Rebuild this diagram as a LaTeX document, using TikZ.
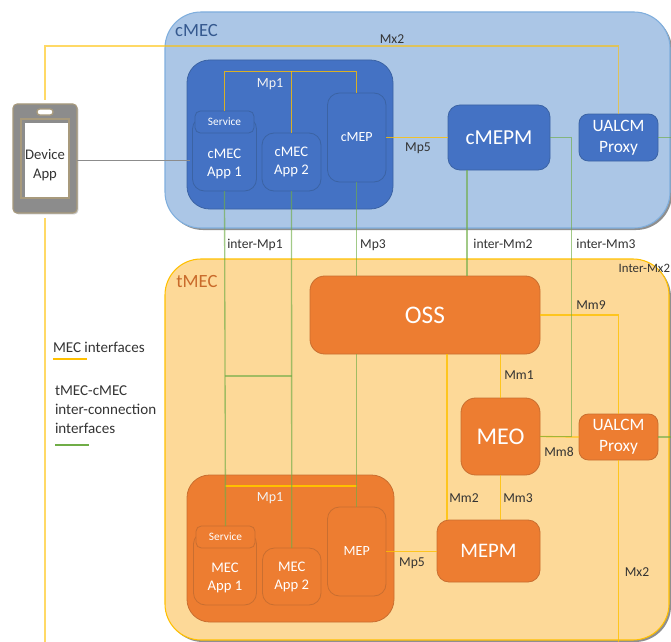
\documentclass[tikz,border=0pt]{standalone}
\usepackage{fontspec}
\setmainfont{Carlito}
\usetikzlibrary{shadows}

\definecolor{cmecfill}{HTML}{ABC6E6}
\definecolor{cmecedge}{HTML}{7FAEDD}
\definecolor{cblue}{HTML}{4472C4}
\definecolor{cblueedge}{HTML}{35598F}
\definecolor{tmecfill}{HTML}{FDD998}
\definecolor{tmecedge}{HTML}{FFC000}
\definecolor{torange}{HTML}{ED7D31}
\definecolor{torangeedge}{HTML}{B9682F}
\definecolor{mecyellow}{HTML}{FFC000}
\definecolor{intergreen}{HTML}{70AD47}
\definecolor{devgrey}{HTML}{8C8C8C}
\definecolor{devtan}{HTML}{A89A7C}

\tikzset{
    wh/.style 2 args={minimum width=#1*0.75pt, minimum height=#2*0.75pt},
    every node/.style={inner sep=0pt, outer sep=0pt, align=center},
    bigbox/.style={rounded corners=27pt, line width=0.8pt, drop shadow={shadow xshift=1.5pt, shadow yshift=-1.5pt, fill=black!55, opacity=0.8}},
    cbox/.style={rounded corners=9pt, fill=cblue, draw=cblueedge!60!cblue, line width=0.6pt, text=white},
    tbox/.style={rounded corners=9pt, fill=torange, draw=torangeedge!70!torange, line width=0.6pt, text=white},
    appfont/.style={font=\fontsize{11}{13.5}\selectfont},
    iflabel/.style={font=\fontsize{10.2}{12}\selectfont, text=black!80},
    inlabel/.style={font=\fontsize{10.5}{12}\selectfont, text=white!95!black},
    legfont/.style={font=\fontsize{11.3}{14.25}\selectfont, text=black!80},
    mecline/.style={draw=mecyellow, opacity=0.8, line width=1pt},
    interline/.style={draw=intergreen, opacity=0.65, line width=1pt},
}

\begin{document}
\begin{tikzpicture}[x=0.75pt, y=-0.75pt]
    \useasboundingbox (0,0) rectangle (671,642);

    % the two MEC areas
    \node[bigbox, wh={505}{216}, fill=cmecfill, draw=cmecedge] (cmec) at (417.5,120) {};
    \node[bigbox, wh={504}{381}, fill=tmecfill, draw=tmecedge] (tmec) at (417,449.5) {};
    \node[font=\fontsize{14}{16}\selectfont, text=cblueedge] (cmeclabel) at (196.5,31) {cMEC};
    \node[font=\fontsize{14}{16}\selectfont, text=torange!85!black] (tmeclabel) at (197,282) {tMEC};

    % cMEC host
    \node[cbox, wh={206}{149}, rounded corners=17pt] (chost) at (290,134.5) {};
    \node[cbox, wh={64}{74}, appfont] (capp1) at (224.5,154) {~\\[8pt]cMEC\\App 1};
    \node[cbox, wh={59}{22}, rounded corners=4pt, font=\fontsize{8.5}{10}\selectfont] (cservice) at (224.5,122) {Service};
    \node[cbox, wh={59}{58}, appfont] (capp2) at (291.5,162) {cMEC\\App 2};
    \node[cbox, wh={58.5}{89}, font=\fontsize{10.5}{12}\selectfont] (cmep) at (356.75,137.5) {cMEP};
    \node[cbox, wh={102}{65}, font=\fontsize{16}{20}\selectfont] (cmepm) at (499,137.5) {cMEPM};
    \node[cbox, wh={79}{47}, rounded corners=7pt, font=\fontsize{13}{15.5}\selectfont] (cproxy) at (618.5,137.5) {UALCM\\Proxy};

    % tMEC side
    \node[tbox, wh={230}{78}, rounded corners=11pt, font=\fontsize{19}{20}\selectfont] (oss) at (425,315) {OSS};
    \node[tbox, wh={79}{77}, rounded corners=11pt, font=\fontsize{18}{20}\selectfont] (meo) at (500.5,436.5) {MEO};
    \node[tbox, wh={103}{62}, font=\fontsize{15.5}{20}\selectfont] (mepm) at (488.5,551) {MEPM};
    \node[tbox, wh={79}{46}, rounded corners=7pt, font=\fontsize{13}{15.5}\selectfont] (tproxy) at (618.5,437) {UALCM\\Proxy};
    \node[tbox, wh={207}{147}, rounded corners=17pt] (thost) at (290.5,548.5) {};
    \node[tbox, wh={63}{73}, appfont] (tapp1) at (225,568.5) {~\\[8pt]MEC\\App 1};
    \node[tbox, wh={59}{22}, rounded corners=4pt, font=\fontsize{8.5}{10}\selectfont] (tservice) at (225.5,537) {Service};
    \node[tbox, wh={58.5}{57}, appfont] (tapp2) at (291.75,576.5) {MEC\\App 2};
    \node[tbox, wh={58.5}{89}, font=\fontsize{10.5}{12}\selectfont] (tmep) at (356.75,551.5) {MEP};

    % device
    \node[wh={64}{109}, rounded corners=3pt, fill=devgrey, draw=devtan, line width=0.8pt, drop shadow={shadow xshift=1pt, shadow yshift=-1pt, fill=black!45}] (device) at (45,158.5) {};
    \node[wh={48}{79}, fill=devgrey, draw=devtan, line width=1pt] (screenframe) at (45,158.5) {};
    \node[wh={43}{74}, fill=white] (screen) at (46.5,160) {};
    \node[wh={16}{6}, rounded corners=2pt, fill=white, draw=devtan, line width=1pt] (speaker) at (45,112) {};
    \node[font=\fontsize{11}{14.25}\selectfont, text=black!80] (deviceapp) at (45,165) {Device\\App};

    \coordinate (mxbend) at (45,46);
    \coordinate (mxupper) at (45,100);
    \coordinate (mxlower) at (45,218);
    \coordinate (mxend) at (45,642);
    \coordinate (devlink) at (190,160.5);
    \coordinate (cbus) at (224.5,71.5);
    \coordinate (tbus) at (225,486);
    \coordinate (applink) at (224.5,376);
    \coordinate (proxycross) at (571.5,137.5);
    \coordinate (cproxyout) at (671,137.5);
    \coordinate (tproxyout) at (671,437);
    \coordinate (mxbottom) at (618.5,642);
    \coordinate (mm9bend) at (618.5,315);

    \draw[draw=black!45, line width=0.8pt] (device.east |- devlink) -- (devlink);

    % MEC interfaces
    \draw[mecline, line width=1.2pt, opacity=0.6] (mxupper) -- (mxbend) -- (mxbend -| cproxy.north) -- (cproxy.north);
    \draw[mecline, line width=1.2pt, opacity=0.6] (mxlower) -- (mxend);
    \draw[mecline] (cservice.north) -- (cbus) -- (cbus -| cmep.north) -- (cmep.north);
    \draw[mecline] (capp2.north) -- (capp2.north |- cbus);
    \draw[mecline] (cmep.east) -- (cmepm.west);
    \draw[mecline] (oss.east) -- (mm9bend) -- (tproxy.north);
    \draw[mecline] (tproxy.south) -- (mxbottom);
    \draw[mecline] (oss.south -| meo.north) -- (meo.north);
    \draw[mecline] (meo.south) -- (meo.south |- mepm.north);
    \draw[mecline] (oss.south -| 447,0) -- (mepm.north -| 447,0);
    \draw[mecline] (meo.east) -- (tproxy.west);
    \draw[mecline] (tmep.east) -- (mepm.west |- tmep.east);
    \draw[mecline, line width=1.1pt, opacity=1] (tbus) -- (tbus -| tmep.north);

    % inter-connection interfaces
    \draw[interline] (capp1.south) -- (tservice.north);
    \draw[interline] (capp2.south) -- (tapp2.north);
    \draw[interline] (applink) -- (applink -| tapp2.north);
    \draw[interline] (cmep.south) -- (oss.north -| cmep.south);
    \draw[interline] (oss.south -| tmep.north) -- (tmep.north);
    \draw[interline] (cmepm.south -| 467,0) -- (oss.north -| 467,0);
    \draw[interline] (cmepm.east) -- (proxycross) -- (proxycross |- meo.east) -- (meo.east);
    \draw[interline] (cproxy.east) -- (cproxyout);
    \draw[interline] (tproxy.east) -- (tproxyout);

    % interface labels
    \node[iflabel] (mxlabel) at (392,39) {Mx2};
    \node[inlabel] (cmplabel) at (270,84) {Mp1};
    \node[iflabel] (cmp5label) at (418,148) {Mp5};
    \node[iflabel] (intermp) at (255,245) {inter-Mp1};
    \node[iflabel] (mp3label) at (373,245) {Mp3};
    \node[iflabel] (intermma) at (503,244) {inter-Mm2};
    \node[iflabel] (intermmb) at (606,244) {inter-Mm3};
    \node[iflabel, font=\fontsize{9.6}{12}\selectfont, anchor=east] (intermx) at (670,268) {Inter-Mx2};
    \node[iflabel] (mm9label) at (591,305) {Mm9};
    \node[iflabel] (mm1label) at (519,375) {Mm1};
    \node[iflabel] (mm8label) at (559,452) {Mm8};
    \node[iflabel] (mm2label) at (464,498) {Mm2};
    \node[iflabel] (mm3label) at (518,498) {Mm3};
    \node[iflabel] (tmp5label) at (412,563) {Mp5};
    \node[iflabel] (mxlowlabel) at (637,572) {Mx2};
    \node[inlabel] (tmplabel) at (270,498) {Mp1};

    % legend
    \node[legfont, anchor=west] (legmec) at (53,347) {MEC interfaces};
    \node[legfont, align=left, anchor=north west] (leginter) at (55,386) {tMEC-cMEC\\inter-connection\\interfaces};
    \coordinate (legmecend) at (87,359);
    \coordinate (legmecstart) at (53,359);
    \coordinate (leginterstart) at (55,444.5);
    \coordinate (leginterend) at (89,444.5);
    \draw[draw=mecyellow, line width=1.5pt] (legmecstart) -- (legmecend);
    \draw[draw=intergreen, line width=1.5pt] (leginterstart) -- (leginterend);
\end{tikzpicture}
\end{document}
